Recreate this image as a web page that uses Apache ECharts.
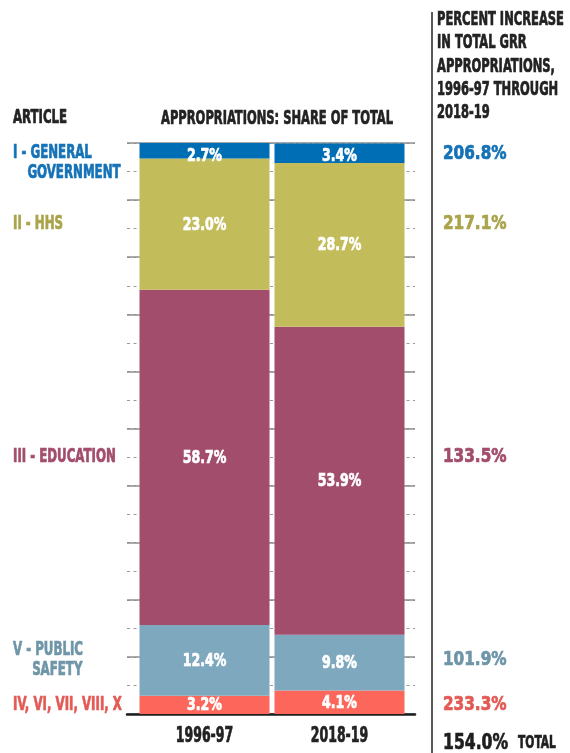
<!DOCTYPE html>
<html>
<head>
<meta charset="utf-8">
<script src="https://cdn.jsdelivr.net/npm/echarts@6/dist/echarts.min.js"></script>
<style>
  html, body { margin: 0; padding: 0; background: #fff; }
  #main { width: 570px; height: 753px; }
</style>
</head>
<body>
<div id="main"></div>
<script>
// data, series listed bottom to top of the stack
const categories = ['1996-97', '2018-19']
const articleNames = ['IV, VI, VII, VIII, X', 'V - PUBLIC\nSAFETY', 'III - EDUCATION', 'II - HHS', 'I - GENERAL\nGOVERNMENT']
const otherArticles = [3.2, 4.1]
const publicSafety = [12.4, 9.8]
const education = [58.7, 53.9]
const hhs = [23.0, 28.7]
const generalGov = [2.7, 3.4]
const pctIncrease = [233.3, 101.9, 133.5, 217.1, 206.8]
const totalIncrease = 154.0
const yTicks = [0, 10, 20, 30, 40, 50, 60, 70, 80, 90, 100]
const headerLines = ['PERCENT INCREASE', 'IN TOTAL GRR', 'APPROPRIATIONS,', '1996-97 THROUGH', '2018-19']

const FONT = '"DejaVu Sans Condensed", "DejaVu Sans", sans-serif'
const barColors = ['#fd665a', '#7ea8be', '#a24d6c', '#c3bc5a', '#006eb5']
const textColors = ['#e35a55', '#6e95a8', '#a24d6c', '#a9a34a', '#1572b6']

const chart = echarts.init(document.getElementById('main'))
const seriesData = [otherArticles, publicSafety, education, hhs, generalGov]

chart.setOption({
  animation: false,
  grid: [
    { left: 127, right: 155, top: 143, bottom: 39 },
    { left: 137, right: 163, top: 143, bottom: 39 }
  ],
  xAxis: [
    {
      gridIndex: 0,
      type: 'value',
      min: 0,
      max: 1,
      axisLine: { show: true, lineStyle: { color: '#1e1e1e', width: 2.5 } },
      axisTick: { show: false },
      axisLabel: { show: false },
      splitLine: { show: false }
    },
    {
      gridIndex: 1,
      type: 'category',
      data: categories,
      axisLine: { show: false },
      axisTick: { show: false },
      axisLabel: { show: false }
    }
  ],
  yAxis: [
    {
      gridIndex: 0,
      type: 'value',
      min: yTicks[0],
      max: yTicks[yTicks.length - 1],
      interval: 5,
      axisLine: { show: false },
      axisTick: { show: false },
      axisLabel: { show: false },
      splitLine: { lineStyle: { color: '#999', width: 1, type: [3, 3.5] } }
    },
    {
      gridIndex: 0,
      type: 'value',
      min: yTicks[0],
      max: yTicks[yTicks.length - 1],
      interval: 10,
      axisLine: { show: false },
      axisTick: { show: false },
      axisLabel: { show: false },
      splitLine: { lineStyle: { color: '#8e8e8e', width: 1.6 } }
    },
    { gridIndex: 1, type: 'value', min: 0, max: 100, show: false }
  ],
  series: seriesData.map((d, i) => ({
    name: articleNames[i],
    type: 'bar',
    stack: 'share',
    xAxisIndex: 1,
    yAxisIndex: 2,
    barWidth: 130,
    data: d,
    itemStyle: { color: barColors[i] }
  }))
})

// condensed text: DejaVu squeezed horizontally, thin stroke for weight
function txt(text, x, y, size, scale, color, align) {
  return {
    type: 'text',
    x: x,
    y: y,
    scaleX: scale,
    z: 10,
    style: {
      text: text,
      x: 0,
      y: 0,
      fill: color,
      stroke: color,
      lineWidth: 0.7,
      font: 'bold ' + size + 'px ' + FONT,
      textAlign: align || 'left',
      textVerticalAlign: 'middle'
    }
  }
}

const ctx = document.createElement('canvas').getContext('2d')
const toPx = (ci, v) => chart.convertToPixel({ gridIndex: 1 }, [ci, v])
const plotTop = toPx(0, 100)[1]
const graphics = []

// value labels inside each segment
categories.forEach((c, ci) => {
  let b = 0
  seriesData.forEach(d => {
    const p = toPx(ci, b + d[ci] / 2)
    b += d[ci]
    graphics.push(txt(d[ci].toFixed(1) + '%', p[0], Math.max(plotTop + 13, p[1] + 1), 17.5, 0.8, '#fff', 'center'))
  })
  const q = toPx(ci, 0)
  graphics.push(txt(c, q[0], 737, 20.5, 0.68, '#222', 'center'))
})

// article names and percent increases, next to the 1996-97 segments
const LS = 19, LSCALE = 0.69
ctx.font = 'bold ' + LS + 'px ' + FONT
let base = 0
seriesData.forEach((d, i) => {
  const mid = base + d[0] / 2
  base += d[0]
  const cy = toPx(0, mid)[1]

  const lines = articleNames[i].split('\n')
  const lh = 20
  const top = Math.max(plotTop + 0.5, cy - (lines.length * lh) / 2)
  const indent = ctx.measureText(lines[0].split(' - ')[0] + ' -').width * LSCALE + 1
  lines.forEach((t, k) => {
    graphics.push(txt(t, 13 + (k > 0 ? indent : 0), top + lh * k + lh / 2, LS, LSCALE, textColors[i]))
  })

  const rc = Math.max(plotTop + 11, cy)
  graphics.push(txt(pctIncrease[i].toFixed(1) + '%', 443, rc, 19.5, 0.87, textColors[i]))
})

headerLines.forEach((t, k) => {
  graphics.push(txt(t, 437, 20 + k * 23.25, 19.5, 0.655, '#222'))
})

graphics.push(
  txt('ARTICLE', 13, 117.5, 19.5, 0.67, '#222'),
  txt('APPROPRIATIONS: SHARE OF TOTAL', 277, 118.5, 19.5, 0.655, '#222', 'center'),
  txt(totalIncrease.toFixed(1) + '%', 443, 743, 22, 0.79, '#1e1e1e'),
  txt('TOTAL', 518, 743.5, 18, 0.66, '#1e1e1e'),
  {
    type: 'line',
    shape: { x1: 432, y1: 12, x2: 432, y2: 753 },
    style: { stroke: '#222', lineWidth: 1.5 }
  }
)

chart.setOption({ graphic: graphics })
</script>
</body>
</html>
